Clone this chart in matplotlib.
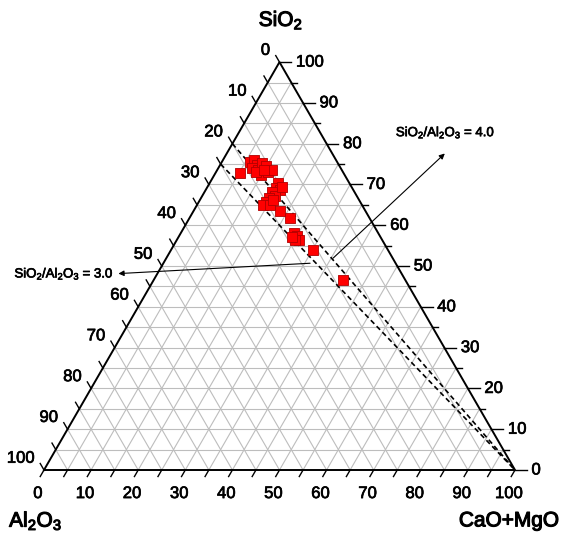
import numpy as np
import matplotlib
matplotlib.use("Agg")
import matplotlib.pyplot as plt
import matplotlib.patheffects as pe

plt.rcParams['font.family'] = ['Liberation Sans', 'DejaVu Sans']
plt.rcParams['mathtext.fontset'] = 'custom'
plt.rcParams['mathtext.rm'] = 'Liberation Sans'
plt.rcParams['mathtext.it'] = 'Liberation Sans'
plt.rcParams['mathtext.bf'] = 'Liberation Sans:bold'

# sample compositions (wt%)
SiO2 = [72.8, 75.5, 76.0, 74.8, 74.0, 73.5, 75.3, 74.5, 72.3, 73.1, 73.5, 73.1, 73.5,
        70.4, 69.1, 68.6, 68.2, 67.2, 66.7, 65.7, 65.0, 65.0, 69.4, 66.2,
        63.5, 61.8, 58.1, 57.4, 56.4, 56.4, 57.1, 53.9, 46.6]
Al2O3 = [22.0, 18.5, 17.4, 17.4, 18.8, 17.8, 16.1, 15.6, 17.8, 15.9, 14.8, 18.4, 16.5,
         15.1, 16.2, 15.6, 17.5, 17.4, 18.9, 20.0, 21.0, 19.5, 14.8, 18.3,
         18.1, 16.9, 17.9, 17.6, 17.7, 18.5, 18.8, 15.9, 13.2]
CaO_MgO = [5.2, 6.0, 6.6, 7.8, 7.2, 8.7, 8.6, 9.9, 9.9, 11.0, 11.7, 8.5, 10.0,
           14.5, 14.7, 15.8, 14.3, 15.4, 14.4, 14.3, 14.0, 15.5, 15.8, 15.5,
           18.4, 21.3, 24.0, 25.0, 25.9, 25.1, 24.1, 30.2, 40.2]

# SiO2/Al2O3 reference lines (start on the SiO2-Al2O3 join, end at CaO+MgO apex)
ratios = [4.0, 3.0]
ticks = list(range(0, 101, 10))

H = np.sqrt(3) / 2


def tern(s, a, c):
    s, a, c = np.asarray(s, float), np.asarray(a, float), np.asarray(c, float)
    tot = s + a + c
    s, c = s / tot * 100, c / tot * 100
    return c + s / 2, s * H


fig = plt.figure(figsize=(5.62, 5.35), dpi=100)
ax = fig.add_axes([0, 0, 1, 1])
ax.set_xlim(-9.34, 109.98)
ax.set_ylim(-13.8, 99.79)
ax.axis('off')

bold_ish = [pe.withStroke(linewidth=0.5, foreground='black')]
bolder = [pe.withStroke(linewidth=0.8, foreground='black')]

# grid every 5
gc = '#bdbdbd'
for v in range(5, 100, 5):
    ax.plot([v / 2, 100 - v / 2], [v * H, v * H], color=gc, lw=0.8, zorder=1)
    ax.plot([v, v + (100 - v) / 2], [0, (100 - v) * H], color=gc, lw=0.8, zorder=1)
    ax.plot([100 - v, (100 - v) / 2], [0, (100 - v) * H], color=gc, lw=0.8, zorder=1)

# frame
ax.plot([0, 100, 50, 0], [0, 0, 100 * H, 0], color='black', lw=1.4, zorder=3,
        solid_joinstyle='miter')

# ticks
L = 1.6
for v in range(0, 101, 5):
    # bottom: CaO+MgO
    ax.plot([v, v - 0.5 * L], [0, -H * L], color='black', lw=1, zorder=3)
    # left: Al2O3
    x0, y0 = (100 - v) / 2, (100 - v) * H
    ax.plot([x0, x0 - 0.5 * L], [y0, y0 + H * L], color='black', lw=1, zorder=3)
    # right: SiO2
    xr, yr = 100 - v / 2, v * H
    lr = 2.5 if v % 10 == 0 else 1.2
    ax.plot([xr, xr + lr], [yr, yr], color='black', lw=1, zorder=3)

fs = 12
for v in ticks:
    ax.text(v - 1.3, -5.0, str(v), ha='center', va='center', fontsize=fs,
            path_effects=bold_ish)
    x0, y0 = (100 - v) / 2, (100 - v) * H
    ax.text(x0 - 2.0, y0 + 2.5, str(v), ha='right', va='center', fontsize=fs,
            path_effects=bold_ish)
    ax.text(100 - v / 2 + 3.5, v * H, str(v), ha='left', va='center', fontsize=fs,
            path_effects=bold_ish)

ax.text(50.3, 95.5, 'SiO$_2$', ha='center', va='center', fontsize=15, path_effects=bolder)
ax.text(-7.4, -10.8, 'Al$_2$O$_3$', ha='left', va='center', fontsize=15, path_effects=bolder)
ax.text(109.4, -10.8, 'CaO+MgO', ha='right', va='center', fontsize=15, path_effects=bolder)

# ratio lines
for r in ratios:
    s0 = 100 * r / (r + 1)
    xs, ys = tern([s0, 0], [100 - s0, 0], [0, 100])
    ax.plot(xs, ys, color='black', lw=1.2, ls=(0, (3, 2)), zorder=4)

# data
xp, yp = tern(SiO2, Al2O3, CaO_MgO)
ax.scatter(xp, yp, marker='s', s=50, color='#ff0000', edgecolor='#b00000',
           linewidth=0.6, zorder=5)

# annotations
ap = dict(arrowstyle='-|>', color='black', lw=0.8, mutation_scale=8,
          shrinkA=0, shrinkB=0)
ax.annotate('', xy=(85.1, 67.2), xytext=(61.4, 45.0), arrowprops=ap, zorder=6)
ax.text(85.3, 71.6, 'SiO$_2$/Al$_2$O$_3$ = 4.0', ha='center', va='center', fontsize=9.5,
        path_effects=bold_ish)
ax.annotate('', xy=(15.8, 41.7), xytext=(56.5, 43.9), arrowprops=ap, zorder=6)
ax.text(14.9, 41.6, 'SiO$_2$/Al$_2$O$_3$ = 3.0', ha='right', va='center', fontsize=9.5,
        path_effects=bold_ish)

fig.savefig('out.png', dpi=100)
